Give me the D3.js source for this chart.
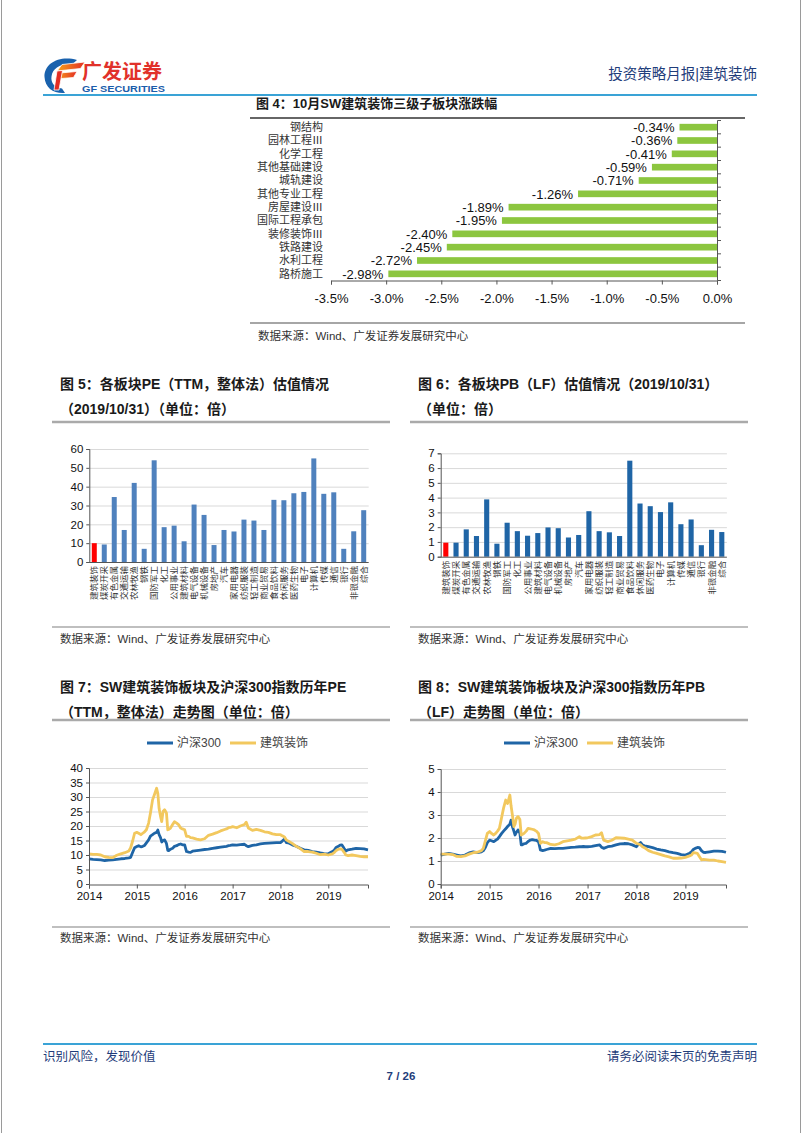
<!DOCTYPE html>
<html><head><meta charset="utf-8">
<script src="https://cdn.jsdelivr.net/npm/d3@7/dist/d3.min.js"></script>
<style>
html,body{margin:0;padding:0;background:#fff;}
svg{display:block;}
text{font-family:"Liberation Sans","Noto Sans CJK SC",sans-serif;}
</style></head>
<body>
<script>
// ---------------- DATA ----------------
const fig4Cats = ["钢结构","园林工程Ⅲ","化学工程","其他基础建设","城轨建设","其他专业工程","房屋建设Ⅲ","国际工程承包","装修装饰Ⅲ","铁路建设","水利工程","路桥施工"];
const fig4Vals = [-0.34,-0.36,-0.41,-0.59,-0.71,-1.26,-1.89,-1.95,-2.40,-2.45,-2.72,-2.98];
const fig4Ticks = [-3.5,-3.0,-2.5,-2.0,-1.5,-1.0,-0.5,0.0];

const industries = ["建筑装饰","煤炭开采","有色金属","交通运输","农林牧渔","钢铁","国防军工","化工","公用事业","建筑材料","电气设备","机械设备","房地产","汽车","家用电器","纺织服装","轻工制造","商业贸易","食品饮料","休闲服务","医药生物","电子","计算机","传媒","通信","银行","非银金融","综合"];
const peVals = [10,9.3,34.5,17,42,7,54,18.5,19.3,11,30.5,25,9,17,16.2,22.5,22,17,33,32.8,36.5,37.2,55,36.2,37,7,16.3,27.5];
const pbVals = [0.95,0.95,1.85,1.4,3.88,0.88,2.3,1.73,1.42,1.6,1.98,1.93,1.3,1.47,3.08,1.73,1.65,1.4,6.5,3.6,3.42,3.02,3.68,2.2,2.52,0.78,1.82,1.67];
const peTicks = [0,10,20,30,40,50,60];
const pbTicks = [0,1,2,3,4,5,6,7];

const dates = [
"2014-01-01","2014-02-01","2014-03-01","2014-04-01","2014-05-01","2014-06-01","2014-07-01","2014-08-01","2014-09-01","2014-10-01","2014-11-01","2014-11-15","2014-12-01","2014-12-15",
"2015-01-01","2015-01-15","2015-02-01","2015-02-15","2015-03-01","2015-03-15","2015-04-01","2015-04-15","2015-05-01","2015-05-15","2015-06-01","2015-06-10","2015-06-20","2015-07-01","2015-07-10","2015-07-20","2015-08-01","2015-08-15","2015-08-25","2015-09-01","2015-09-15","2015-10-01","2015-10-15","2015-11-01","2015-11-15","2015-12-01","2015-12-15",
"2016-01-01","2016-01-15","2016-02-01","2016-02-15","2016-03-01","2016-04-01","2016-05-01","2016-06-01","2016-07-01","2016-08-01","2016-09-01","2016-10-01","2016-11-01","2016-11-15","2016-12-01","2016-12-15",
"2017-01-01","2017-02-01","2017-03-01","2017-04-01","2017-04-15","2017-05-01","2017-06-01","2017-07-01","2017-08-01","2017-09-01","2017-10-01","2017-11-01","2017-12-01",
"2018-01-01","2018-01-15","2018-02-01","2018-02-15","2018-03-01","2018-04-01","2018-05-01","2018-06-01","2018-07-01","2018-08-01","2018-09-01","2018-10-01","2018-11-01","2018-12-01",
"2019-01-01","2019-02-01","2019-02-15","2019-03-01","2019-03-15","2019-04-01","2019-04-15","2019-05-01","2019-05-15","2019-06-01","2019-07-01","2019-08-01","2019-09-01","2019-10-01","2019-10-31"];

const hs300PE = [8.7,8.5,8.4,8.3,8.1,8.2,8.3,8.5,8.7,8.8,9.0,9.2,11.0,12.5,
12.9,13.2,12.8,13.0,13.3,14.2,15.2,16.5,17.0,17.5,17.8,18.6,17.0,16.0,14.5,15.0,15.2,14.0,11.6,11.5,12.0,12.3,13.0,13.2,13.6,13.8,13.5,
13.5,11.2,11.0,10.9,11.3,11.5,11.7,11.9,12.0,12.3,12.5,12.7,12.9,13.0,13.2,13.3,
13.5,13.4,13.6,13.7,13.2,12.9,13.3,13.5,13.8,14.0,14.1,14.2,14.3,
14.3,14.8,15.5,14.3,14.2,13.5,13.0,12.3,11.8,11.6,11.2,11.0,10.7,10.5,
10.4,11.2,11.6,12.6,12.9,13.4,13.5,12.3,11.4,11.8,12.0,12.3,12.2,12.1,11.8];
const jzPE = [10.4,10.2,10.2,10.0,9.4,9.2,9.1,9.9,10.4,10.8,11.4,12.5,15.0,17.5,
17.8,17.5,17.0,17.5,18.0,18.7,21.0,24.5,29.0,30.8,33.0,31.3,26.0,23.3,21.5,25.0,25.6,24.5,18.7,18.8,19.3,20.5,21.5,21.0,20.5,19.3,19.0,
18.7,16.4,16.4,16.0,15.9,15.5,15.2,15.6,16.8,17.2,17.7,18.3,18.8,19.0,19.4,19.5,
19.8,19.4,20.0,20.5,21.3,19.3,18.5,18.8,18.5,18.0,17.8,17.3,17.0,
17.0,16.6,16.2,15.2,14.8,14.0,13.0,12.2,11.2,11.2,11.0,10.6,10.1,10.3,
10.0,10.4,10.8,11.5,11.9,12.1,12.0,11.0,10.0,9.8,10.0,9.8,9.5,9.4,9.4];
const hs300PB = [1.26,1.30,1.33,1.30,1.26,1.22,1.26,1.35,1.40,1.36,1.40,1.45,1.60,1.80,
1.91,1.88,1.84,1.90,1.95,2.06,2.20,2.30,2.40,2.50,2.60,2.78,2.50,2.30,2.13,2.25,2.35,2.20,1.70,1.70,1.75,1.77,1.85,1.91,1.93,1.91,1.90,
1.84,1.48,1.45,1.47,1.50,1.55,1.54,1.55,1.55,1.57,1.59,1.60,1.62,1.62,1.63,1.62,
1.62,1.64,1.67,1.70,1.60,1.55,1.62,1.65,1.70,1.74,1.76,1.75,1.70,
1.62,1.72,1.80,1.70,1.66,1.62,1.58,1.52,1.48,1.45,1.40,1.36,1.33,1.28,
1.26,1.34,1.40,1.50,1.55,1.59,1.58,1.45,1.38,1.37,1.40,1.43,1.43,1.42,1.38];
const jzPB = [1.30,1.30,1.30,1.28,1.20,1.19,1.22,1.30,1.36,1.38,1.45,1.55,1.90,2.20,
2.28,2.20,2.13,2.20,2.30,2.42,2.90,3.30,3.65,3.50,3.87,3.40,3.00,2.50,2.60,2.86,2.93,2.80,2.13,2.15,2.20,2.30,2.42,2.40,2.38,2.35,2.30,
2.20,1.77,1.84,1.80,1.80,1.72,1.70,1.75,1.84,1.88,1.91,1.95,2.06,2.00,1.99,2.00,
2.01,2.06,2.13,2.15,2.23,1.91,1.84,1.90,2.01,2.00,1.99,1.95,1.91,
1.77,1.74,1.70,1.62,1.58,1.45,1.38,1.33,1.28,1.22,1.18,1.12,1.12,1.13,
1.16,1.22,1.26,1.36,1.35,1.33,1.20,1.05,1.07,1.06,1.04,1.04,1.00,0.97,0.94];
const yearTicks = ["2014","2015","2016","2017","2018","2019"];
const peLineTicks = [0,5,10,15,20,25,30,35,40];
const pbLineTicks = [0,1,2,3,4,5];
const seriesNames = ["沪深300","建筑装饰"];

// ---------------- STYLE ----------------
const NAVY = "#1f3d7a", SKY = "#3aa3d6", GREEN = "#8cc63f", RED = "#ff0000";
const BLUE5 = "#4f81bd", BLUE6 = "#1f65a6", LBLUE = "#1f65a6", LYEL = "#f2c85e";
const GRID = "#d9d9d9", AX = "#555";

const svg = d3.select("body").append("svg").attr("width",802).attr("height",1133);
svg.append("rect").attr("width",802).attr("height",1133).attr("fill","#fff");
svg.append("line").attr("x1",1.5).attr("x2",1.5).attr("y1",0).attr("y2",1133).attr("stroke","#9a9a9a").attr("stroke-width",1);
svg.append("line").attr("x1",800.5).attr("x2",800.5).attr("y1",0).attr("y2",1133).attr("stroke","#9a9a9a").attr("stroke-width",1);

function txt(g,x,y,s,opt={}) {
  return g.append("text").attr("x",x).attr("y",y).text(s)
    .attr("font-size",opt.size||12).attr("fill",opt.fill||"#222")
    .attr("font-weight",opt.bold?"bold":"normal")
    .attr("text-anchor",opt.anchor||"start");
}

// ---------------- HEADER ----------------
const logo = svg.append("g");
const lg = svg.append("defs");
const grad = lg.append("linearGradient").attr("id","rg").attr("x1","0").attr("x2","1").attr("y1","0").attr("y2","0");
grad.append("stop").attr("offset","0").attr("stop-color","#f7a21b");
grad.append("stop").attr("offset","1").attr("stop-color","#e42d24");
logo.append("path").attr("d","M77 60 C60 55 44 63 44.5 77 C45 88 54 94 65 93 L62 88.5 C55 88 50.5 83 51.5 76.5 C52.5 68 61 63.5 72 64.5 Z").attr("fill","#1a62ad");
logo.append("path").attr("d","M57 71 L62 64.5 L85 62 L80.5 68.5 Z").attr("fill","url(#rg)").attr("stroke","#fff").attr("stroke-width",0.8);
logo.append("path").attr("d","M55.5 79 L59.5 73 L77 71.5 L73.5 77.5 Z").attr("fill","url(#rg)").attr("stroke","#fff").attr("stroke-width",0.8);
logo.append("path").attr("d","M57 71 L62.5 70.5 L59 90 L54 90 Z").attr("fill","#e42d24").attr("stroke","#fff").attr("stroke-width",0.8);
txt(svg,82,79,"广发证券",{size:20,bold:true,fill:"#e1312a"}).attr("font-family","Noto Sans CJK SC");
txt(svg,82,92,"GF SECURITIES",{size:9,bold:true,fill:"#1b5dab"}).attr("textLength",83).attr("lengthAdjust","spacingAndGlyphs");
txt(svg,757,79,"投资策略月报|建筑装饰",{size:14.5,fill:NAVY,anchor:"end"}).attr("font-family","Noto Sans CJK SC");
svg.append("line").attr("x1",43).attr("x2",757).attr("y1",95).attr("y2",95).attr("stroke",SKY).attr("stroke-width",2);

// ---------------- FIG 4 ----------------
txt(svg,256,108,"图 4：10月SW建筑装饰三级子板块涨跌幅",{size:13,bold:true,fill:"#1a1a1a"});
svg.append("line").attr("x1",250).attr("x2",745).attr("y1",118).attr("y2",118).attr("stroke","#333").attr("stroke-width",1.5);
{
  const g = svg.append("g");
  const x = d3.scaleLinear().domain([-3.5,0]).range([331,717]);
  const y = d3.scaleBand().domain(fig4Cats).range([120.5,280.5]).paddingInner(0.5).paddingOuter(0.25);
  const data = fig4Cats.map((c,i)=>({c,v:fig4Vals[i]}));
  g.selectAll("rect.b").data(data).join("rect").attr("class","b")
    .attr("x",d=>x(d.v)).attr("width",d=>x(0)-x(d.v))
    .attr("y",d=>y(d.c)).attr("height",y.bandwidth()).attr("fill",GREEN);
  g.selectAll("text.v").data(data).join("text").attr("class","v")
    .attr("x",d=>x(d.v)-5).attr("y",d=>y(d.c)+y.bandwidth()/2).attr("dy","0.36em")
    .attr("text-anchor","end").attr("font-size",13).attr("fill","#111")
    .text(d=>d.v.toFixed(2)+"%");
  g.selectAll("text.c").data(fig4Cats).join("text").attr("class","c")
    .attr("x",323).attr("y",d=>y(d)+y.bandwidth()/2).attr("dy","0.36em")
    .attr("text-anchor","end").attr("font-size",11).attr("fill","#333")
    .attr("font-family","Noto Sans CJK SC").text(d=>d);
  const ax = g.append("g").attr("transform","translate(0,280.5)")
    .call(d3.axisBottom(x).tickValues(fig4Ticks).tickFormat(d=>d.toFixed(1)+"%").tickSize(4).tickPadding(9));
  ax.select(".domain").attr("stroke",AX);
  ax.selectAll(".tick line").attr("stroke",AX);
  ax.selectAll("text").attr("font-size",13).attr("fill","#111").attr("font-family","Liberation Sans");
  g.append("line").attr("x1",x(0)+0.5).attr("x2",x(0)+0.5).attr("y1",y.range()[0]).attr("y2",y.range()[1]).attr("stroke",AX);
  const bounds = d3.range(fig4Cats.length+1).map(i=>y.range()[0]+i*(y.range()[1]-y.range()[0])/fig4Cats.length);
  g.selectAll("line.t").data(bounds).join("line").attr("class","t")
    .attr("x1",x(0)+0.5).attr("x2",x(0)+4).attr("y1",d=>d).attr("y2",d=>d).attr("stroke",AX);
}
svg.append("line").attr("x1",250).attr("x2",745).attr("y1",323).attr("y2",323).attr("stroke","#888").attr("stroke-width",1.5);
txt(svg,258,340,"数据来源：Wind、广发证券发展研究中心",{size:11.5,fill:"#333"});

// ---------------- FIG 5 / 6 ----------------
function title2(x,y,l1,l2,x1,x2,ly) {
  txt(svg,x,y,l1,{size:14,bold:true,fill:"#1a1a1a"});
  txt(svg,x,y+25,l2,{size:14,bold:true,fill:"#1a1a1a"});
  svg.append("line").attr("x1",x1).attr("x2",x2).attr("y1",ly).attr("y2",ly).attr("stroke","#aaa").attr("stroke-width",2.5);
}
title2(60,389,"图 5：各板块PE（TTM，整体法）估值情况","（2019/10/31）（单位：倍）",52,390,422);
title2(418,389,"图 6：各板块PB（LF）估值情况（2019/10/31）","（单位：倍）",410,748,422);

function barChart(vals,ticks,x0,x1,y0,y1,color) {
  const g = svg.append("g");
  const x = d3.scaleBand().domain(industries).range([x0,x1]).paddingInner(0.5).paddingOuter(0.25);
  const y = d3.scaleLinear().domain([0,d3.max(ticks)]).range([y0,y1]);
  g.selectAll("line.g").data(ticks.slice(1)).join("line").attr("class","g")
    .attr("x1",x0).attr("x2",x1).attr("y1",d=>y(d)+0.5).attr("y2",d=>y(d)+0.5).attr("stroke",GRID);
  g.selectAll("rect").data(industries).join("rect")
    .attr("x",d=>x(d)).attr("width",x.bandwidth())
    .attr("y",(d,i)=>y(vals[i])).attr("height",(d,i)=>y(0)-y(vals[i]))
    .attr("fill",(d,i)=>i===0?RED:color);
  const ay = g.append("g").attr("transform",`translate(${x0},0)`)
    .call(d3.axisLeft(y).tickValues(ticks).tickFormat(d3.format("d")).tickSize(3).tickPadding(3));
  ay.select(".domain").attr("stroke",AX); ay.selectAll(".tick line").attr("stroke",AX);
  ay.selectAll("text").attr("font-size",11.5).attr("fill","#111");
  g.append("line").attr("x1",x0).attr("x2",x1).attr("y1",y(0)+0.5).attr("y2",y(0)+0.5).attr("stroke",AX);
  g.selectAll("text.l").data(industries).join("text").attr("class","l")
    .attr("transform",d=>`translate(${x(d)+x.bandwidth()/2+3},${y0+4}) rotate(-90)`)
    .attr("text-anchor","end").attr("font-size",8.5).attr("fill","#333")
    .attr("font-family","Noto Sans CJK SC").text(d=>d);
}
barChart(peVals,peTicks,89.3,368.7,562,449,BLUE5);
barChart(pbVals,pbTicks,440.7,726.9,556.7,453.3,BLUE6);

svg.append("line").attr("x1",52).attr("x2",390).attr("y1",627).attr("y2",627).attr("stroke","#aaa").attr("stroke-width",1.5);
svg.append("line").attr("x1",410).attr("x2",748).attr("y1",627).attr("y2",627).attr("stroke","#aaa").attr("stroke-width",1.5);
txt(svg,60,643,"数据来源：Wind、广发证券发展研究中心",{size:11.5,fill:"#333"});
txt(svg,418,643,"数据来源：Wind、广发证券发展研究中心",{size:11.5,fill:"#333"});

// ---------------- FIG 7 / 8 ----------------
title2(60,692,"图 7：SW建筑装饰板块及沪深300指数历年PE","（TTM，整体法）走势图（单位：倍）",52,390,720);
title2(418,692,"图 8：SW建筑装饰板块及沪深300指数历年PB","（LF）走势图（单位：倍）",410,748,720);

const parse = d3.timeParse("%Y-%m-%d");
const dts = dates.map(parse);
function lineChart(s1,s2,ticks,x0,x1,y0,y1,legX) {
  const g = svg.append("g");
  const x = d3.scaleTime().domain([parse("2014-01-01"),parse("2019-10-31")]).range([x0,x1]);
  const y = d3.scaleLinear().domain([0,d3.max(ticks)]).range([y0,y1]);
  g.selectAll("line.g").data(ticks.slice(1)).join("line").attr("class","g")
    .attr("x1",x0).attr("x2",x1).attr("y1",d=>y(d)+0.5).attr("y2",d=>y(d)+0.5).attr("stroke",GRID);
  const line = d3.line().x((d,i)=>x(dts[i])).y(d=>y(d));
  g.append("path").attr("d",line(s1)).attr("fill","none").attr("stroke",LBLUE).attr("stroke-width",2.8).attr("stroke-linejoin","round");
  g.append("path").attr("d",line(s2)).attr("fill","none").attr("stroke",LYEL).attr("stroke-width",2.8).attr("stroke-linejoin","round");
  const ay = g.append("g").attr("transform",`translate(${x0},0)`)
    .call(d3.axisLeft(y).tickValues(ticks).tickFormat(d3.format("d")).tickSize(3).tickPadding(3));
  ay.select(".domain").attr("stroke",AX); ay.selectAll(".tick line").attr("stroke",AX);
  ay.selectAll("text").attr("font-size",11.5).attr("fill","#111");
  const ax = g.append("g").attr("transform",`translate(0,${y0+0.5})`)
    .call(d3.axisBottom(x).tickValues(yearTicks.map(d=>parse(d+"-01-01"))).tickFormat(d3.timeFormat("%Y")).tickSize(4).tickPadding(3));
  ax.select(".domain").attr("stroke",AX); ax.selectAll(".tick line").attr("stroke",AX);
  ax.selectAll("text").attr("font-size",11.5).attr("fill","#111");
  const lgd = g.append("g").attr("transform",`translate(${legX},743)`);
  [[LBLUE,seriesNames[0],0],[LYEL,seriesNames[1],83]].forEach(([c,n,dx])=>{
    lgd.append("line").attr("x1",dx).attr("x2",dx+26).attr("y1",0).attr("y2",0).attr("stroke",c).attr("stroke-width",3);
    lgd.append("text").attr("x",dx+30).attr("y",0).attr("dy","0.36em").attr("font-size",12).attr("fill","#444").text(n);
  });
}
lineChart(hs300PE,jzPE,peLineTicks,89,368,884,768,147);
lineChart(hs300PB,jzPB,pbLineTicks,440.7,726,884,769,504);

svg.append("line").attr("x1",52).attr("x2",390).attr("y1",927).attr("y2",927).attr("stroke","#aaa").attr("stroke-width",1.5);
svg.append("line").attr("x1",410).attr("x2",748).attr("y1",927).attr("y2",927).attr("stroke","#aaa").attr("stroke-width",1.5);
txt(svg,60,942,"数据来源：Wind、广发证券发展研究中心",{size:11.5,fill:"#333"});
txt(svg,418,942,"数据来源：Wind、广发证券发展研究中心",{size:11.5,fill:"#333"});

// ---------------- FOOTER ----------------
svg.append("line").attr("x1",43).attr("x2",757).attr("y1",1044).attr("y2",1044).attr("stroke",SKY).attr("stroke-width",2);
txt(svg,43,1061,"识别风险，发现价值",{size:12.5,fill:NAVY}).attr("font-family","Noto Sans CJK SC");
txt(svg,757,1061,"请务必阅读末页的免责声明",{size:12.5,fill:NAVY,anchor:"end"}).attr("font-family","Noto Sans CJK SC");
txt(svg,401,1080,"7 / 26",{size:11.5,bold:true,fill:NAVY,anchor:"middle"});
</script>
</body></html>
